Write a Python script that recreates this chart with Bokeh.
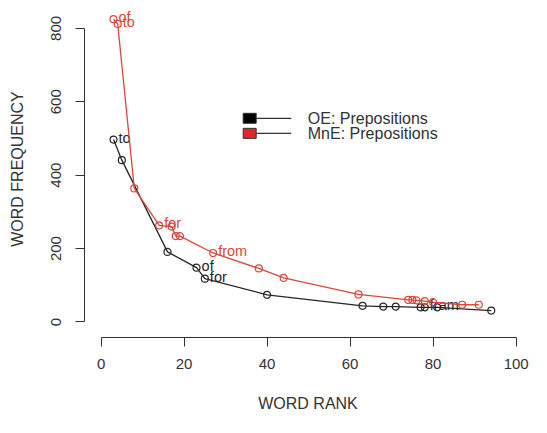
from bokeh.plotting import figure
from bokeh.models import Range1d, FixedTicker, ColumnDataSource
from bokeh.embed import file_html
from bokeh.resources import INLINE
from bokeh.core.properties import value

# ---- data ----
oe_rank = [3, 5, 16, 23, 25, 40, 63, 68, 71, 77, 78, 81, 94]
oe_freq = [497, 441, 191, 148, 118, 74, 44, 42, 42, 40, 40, 40, 31]
oe_words = ["to", "", "", "of", "for", "", "", "", "", "", "fram", "", ""]

mne_rank = [3, 4, 8, 14, 17, 18, 19, 27, 38, 44, 62, 74, 75, 76, 78, 80, 87, 91]
mne_freq = [825, 812, 364, 263, 260, 234, 234, 188, 146, 120, 75, 60, 60, 59, 57, 54, 47, 47]
mne_words = ["of", "to", "", "for", "", "", "", "from", "", "", "", "", "", "", "", "", "", ""]

x_ticks = [0, 20, 40, 60, 80, 100]
y_ticks = [0, 200, 400, 600, 800]
series_names = ["OE: Prepositions", "MnE: Prepositions"]

BLACK = "#262626"
RED = "#d8483a"
AXIS = "#333333"
FONT = "Liberation Sans"

p = figure(width=531, height=417, output_backend="svg", toolbar_location=None,
           x_range=Range1d(-4, 103.7), y_range=Range1d(-42.3, 876),
           min_border_left=84, min_border_bottom=80, min_border_top=0, min_border_right=0)
p.outline_line_color = None
p.grid.visible = False
p.background_fill_color = "white"

for ax in (p.xaxis[0], p.yaxis[0]):
    ax.axis_line_color = AXIS
    ax.major_tick_line_color = AXIS
    ax.minor_tick_line_color = None
    ax.major_tick_out = 9
    ax.major_tick_in = 0
    ax.major_label_text_font = FONT
    ax.major_label_text_font_size = "15px"
    ax.major_label_text_color = AXIS
    ax.axis_label_text_font = FONT
    ax.axis_label_text_font_size = "16px"
    ax.axis_label_text_font_style = "normal"
    ax.axis_label_text_color = AXIS

p.xaxis.ticker = FixedTicker(ticks=x_ticks)
p.yaxis.ticker = FixedTicker(ticks=y_ticks)
p.xaxis.bounds = (x_ticks[0], x_ticks[-1])
p.yaxis.bounds = (y_ticks[0], y_ticks[-1])
p.xaxis.axis_label = "WORD RANK"
p.yaxis.axis_label = "WORD FREQUENCY"
p.xaxis.major_label_standoff = 12
p.xaxis.axis_label_standoff = 23
p.yaxis.major_label_orientation = "vertical"
p.yaxis.major_label_standoff = 14
p.yaxis.axis_label_standoff = 23

oe = ColumnDataSource(dict(x=oe_rank, y=oe_freq, w=oe_words))
mne = ColumnDataSource(dict(x=mne_rank, y=mne_freq, w=mne_words))

for src, col in ((oe, BLACK), (mne, RED)):
    p.line("x", "y", source=src, line_color=col, line_width=1.3)
    p.scatter("x", "y", source=src, size=7, marker="circle", fill_color=None,
              line_color=col, line_width=1.2)
    p.text("x", "y", text="w", source=src, text_color=col, text_font=value(FONT),
           text_font_size="14.5px", text_align="left", text_baseline="alphabetic",
           x_offset=5, y_offset=-2)

# legend (R style: filled box + line, then text)
leg_x = 35.8
leg_line = [37.4, 45.8]
leg_text_x = 49.8
leg_y = [555, 514]
for name, col, ly in zip(series_names, (BLACK, RED), leg_y):
    p.line(leg_line, [ly, ly], line_color="#333333", line_width=1.2)
    p.rect([leg_x], [ly], width=13, height=10, width_units="screen", height_units="screen",
           fill_color="#000000" if col == BLACK else "#e0262a", line_color="#333333", line_width=1)
    p.text([leg_text_x], [ly], text=[name], text_color=AXIS, text_font=value(FONT),
           text_font_size="16px", text_align="left", text_baseline="middle")

open("out.html", "w").write(file_html(p, INLINE))
